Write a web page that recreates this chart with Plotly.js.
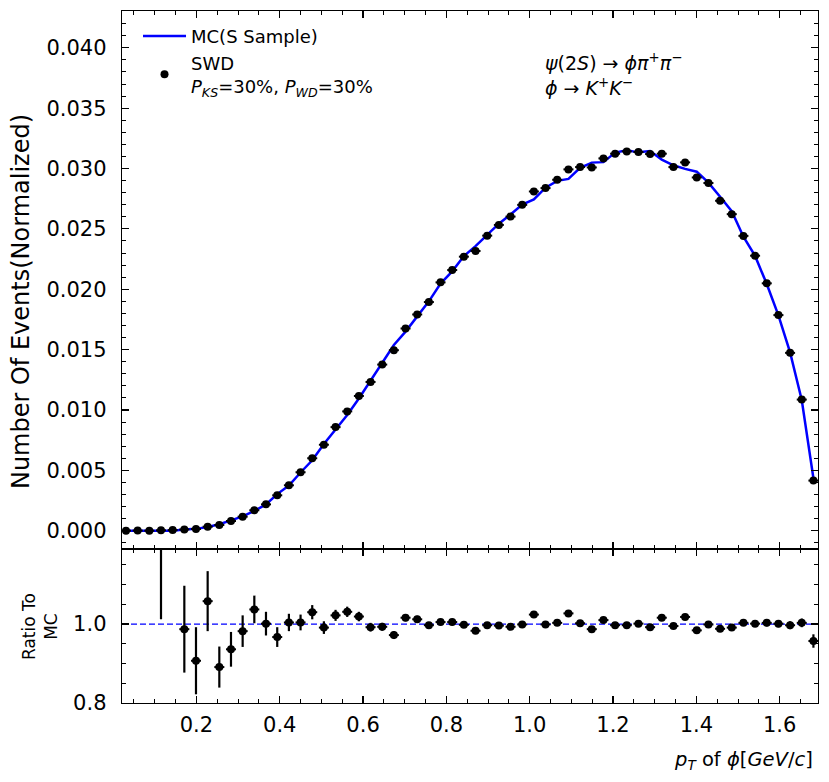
<!DOCTYPE html>
<html>
<head>
<meta charset="utf-8">
<script src="https://cdn.plot.ly/plotly-3.0.1.min.js"></script>
<style>html,body{margin:0;padding:0;background:#fff;}#chart{width:829px;height:782px;}</style>
</head>
<body>
<div id="chart"></div>
<script>
// bin centres of pT(phi) [GeV/c]
const ptCenters = [0.031,0.059,0.087,0.115,0.143,0.171,0.199,0.227,0.255,0.283,
  0.311,0.339,0.367,0.394,0.422,0.450,0.478,0.506,0.534,0.562,
  0.590,0.618,0.646,0.674,0.702,0.730,0.758,0.786,0.814,0.842,
  0.870,0.898,0.926,0.954,0.982,1.010,1.038,1.066,1.093,1.121,
  1.149,1.177,1.205,1.233,1.261,1.289,1.317,1.345,1.373,1.401,
  1.429,1.457,1.485,1.513,1.541,1.569,1.597,1.625,1.653,1.681];

// MC (S sample) normalized distribution
const mcValues = [0.00000,0.00000,0.00000,0.00002,0.00000,0.00010,0.00015,0.00031,0.00053,0.00085,
  0.00118,0.00163,0.00218,0.00303,0.00374,0.00482,0.00583,0.00718,0.00840,0.00958,
  0.01095,0.01242,0.01386,0.01538,0.01649,0.01770,0.01900,0.02047,0.02148,0.02275,
  0.02357,0.02451,0.02543,0.02620,0.02702,0.02744,0.02841,0.02898,0.02914,0.03006,
  0.03049,0.03053,0.03132,0.03151,0.03134,0.03145,0.03074,0.03027,0.02997,0.02974,
  0.02883,0.02766,0.02646,0.02435,0.02276,0.02043,0.01784,0.01477,0.01083,0.00434];

// SWD weighted distribution
const swdValues = [0.00000,0.00001,0.00000,0.00003,0.00005,0.00010,0.00014,0.00033,0.00047,0.00080,
  0.00116,0.00169,0.00218,0.00293,0.00376,0.00484,0.00600,0.00712,0.00858,0.00988,
  0.01116,0.01232,0.01376,0.01495,0.01675,0.01791,0.01894,0.02057,0.02159,0.02270,
  0.02317,0.02444,0.02533,0.02602,0.02699,0.02810,0.02838,0.02907,0.02993,0.03012,
  0.03009,0.03084,0.03123,0.03142,0.03137,0.03120,0.03123,0.03012,0.03051,0.02926,
  0.02880,0.02733,0.02622,0.02442,0.02278,0.02049,0.01786,0.01473,0.01086,0.00415];

const swdErrors = [0.00002,0.00002,0.00002,0.00003,0.00002,0.00002,0.00002,0.00003,0.00003,0.00004,
  0.00005,0.00006,0.00007,0.00008,0.00008,0.00010,0.00011,0.00012,0.00013,0.00013,
  0.00014,0.00014,0.00015,0.00015,0.00016,0.00016,0.00017,0.00017,0.00018,0.00018,
  0.00019,0.00019,0.00020,0.00020,0.00020,0.00021,0.00021,0.00021,0.00022,0.00022,
  0.00022,0.00022,0.00022,0.00022,0.00022,0.00022,0.00022,0.00022,0.00022,0.00021,
  0.00021,0.00021,0.00020,0.00020,0.00019,0.00018,0.00017,0.00015,0.00013,0.00007];

const binHalfWidth = 0.012;

// Ratio SWD / MC
const ratioValues = [null,null,null,1.35,null,0.987,0.907,1.058,0.891,0.936,
  0.982,1.037,1.001,0.967,1.004,1.004,1.030,0.991,1.022,1.031,
  1.019,0.992,0.993,0.972,1.016,1.012,0.997,1.005,1.005,0.998,
  0.983,0.997,0.996,0.993,0.999,1.024,0.999,1.003,1.027,1.002,
  0.987,1.010,0.997,0.997,1.001,0.992,1.016,0.995,1.018,0.984,
  0.999,0.988,0.991,1.003,1.001,1.003,1.001,0.997,1.003,0.957];

const ratioErrors = [null,null,null,0.338,null,0.110,0.085,0.076,0.052,0.044,
  0.040,0.035,0.030,0.025,0.022,0.020,0.018,0.016,0.014,0.013,
  0.012,0.011,0.010,0.010,0.009,0.009,0.008,0.008,0.008,0.008,
  0.008,0.007,0.007,0.007,0.007,0.007,0.007,0.007,0.007,0.007,
  0.007,0.007,0.007,0.007,0.007,0.007,0.007,0.007,0.007,0.007,
  0.007,0.008,0.008,0.008,0.008,0.009,0.009,0.010,0.011,0.017];

const yTickVals = [0.000,0.005,0.010,0.015,0.020,0.025,0.030,0.035,0.040];
const xTickVals = [0.2,0.4,0.6,0.8,1.0,1.2,1.4,1.6];
const ratioTickVals = [0.8,1.0];

const FONT = 'DejaVu Sans, Liberation Sans, sans-serif';
const BLUE = '#0000ff';

const traces = [
  {
    x: ptCenters, y: mcValues, xaxis: 'x', yaxis: 'y',
    type: 'scatter', mode: 'lines', name: 'MC(S Sample)',
    line: {color: BLUE, width: 2.5}
  },
  {
    x: ptCenters, y: swdValues, xaxis: 'x', yaxis: 'y',
    type: 'scatter', mode: 'markers',
    name: 'SWD<br><i>P</i><sub><i>KS</i></sub>=30%, <i>P</i><sub><i>WD</i></sub>=30%',
    marker: {color: '#000', size: 8},
    error_y: {type: 'data', array: swdErrors, visible: true, color: '#000', thickness: 2, width: 0},
    error_x: {type: 'constant', value: binHalfWidth, visible: true, color: '#000', thickness: 2, width: 0}
  },
  {
    x: ptCenters, y: ratioValues, xaxis: 'x2', yaxis: 'y2',
    type: 'scatter', mode: 'markers', showlegend: false,
    marker: {color: '#000', size: 8},
    error_y: {type: 'data', array: ratioErrors, visible: true, color: '#000', thickness: 2.2, width: 0},
    error_x: {type: 'constant', value: binHalfWidth, visible: true, color: '#000', thickness: 2, width: 0}
  }
];

const axisCommon = {
  showline: true, linecolor: '#000', linewidth: 1.3, mirror: 'ticks',
  ticks: 'inside', ticklen: 7, tickwidth: 1.2, tickcolor: '#000',
  showgrid: false, zeroline: false,
  tickfont: {family: FONT, size: 21, color: '#000'}
};

const xRange = [0.0214, 1.692];

const layout = {
  width: 829, height: 782,
  margin: {l: 122, r: 11, t: 11, b: 79},
  paper_bgcolor: '#fff', plot_bgcolor: '#fff',
  font: {family: FONT, color: '#000'},
  showlegend: true,
  legend: {
    x: 0.023, y: 0.99, xanchor: 'left', yanchor: 'top',
    bgcolor: 'rgba(0,0,0,0)', font: {family: FONT, size: 18, color: '#000'},
    itemwidth: 43, tracegroupgap: 4
  },
  xaxis: Object.assign({}, axisCommon, {
    domain: [0, 1], anchor: 'y', range: xRange, showticklabels: false,
    tickvals: xTickVals, matches: 'x2',
    minor: {dtick: 0.05, tick0: 0, ticks: 'inside', ticklen: 4, tickwidth: 1, tickcolor: '#000'}
  }),
  yaxis: Object.assign({}, axisCommon, {
    domain: [0.2225, 1], anchor: 'x', range: [-0.00152, 0.04305],
    tickvals: yTickVals, tickformat: '.3f', ticklabelstandoff: 10,
    minor: {dtick: 0.001, tick0: 0, ticks: 'inside', ticklen: 4, tickwidth: 1, tickcolor: '#000'}
  }),
  xaxis2: Object.assign({}, axisCommon, {
    domain: [0, 1], anchor: 'y2', range: xRange,
    tickvals: xTickVals, tickformat: '.1f', ticklabelstandoff: 2,
    minor: {dtick: 0.05, tick0: 0, ticks: 'inside', ticklen: 4, tickwidth: 1, tickcolor: '#000'}
  }),
  yaxis2: Object.assign({}, axisCommon, {
    domain: [0, 0.2225], anchor: 'x2', range: [0.8, 1.19],
    tickvals: ratioTickVals, tickformat: '.1f', ticklabelstandoff: 10,
    minor: {dtick: 0.05, tick0: 0, ticks: 'inside', ticklen: 4, tickwidth: 1, tickcolor: '#000'}
  }),
  shapes: [
    {type: 'line', xref: 'x2 domain', yref: 'y2', x0: 0, x1: 1, y0: 1, y1: 1,
     layer: 'below', line: {color: BLUE, width: 1.3, dash: '6px,3px'}}
  ],
  annotations: [
    {xref: 'paper', yref: 'paper', x: 0.605, y: 0.946, xanchor: 'left', yanchor: 'top',
     align: 'left', showarrow: false,
     font: {family: FONT, size: 19, color: '#000'},
     text: '<i>ψ</i>(2<i>S</i>) → <i>ϕπ</i><sup>+</sup><i>π</i><sup>−</sup><br><i>ϕ</i> → <i>K</i><sup>+</sup><i>K</i><sup>−</sup>'},
    {xref: 'paper', yref: 'paper', x: -0.145, y: 0.5795, xanchor: 'center', yanchor: 'middle',
     textangle: -90, showarrow: false,
     font: {family: FONT, size: 24, color: '#000'},
     text: 'Number Of Events(Normalized)'},
    {xref: 'paper', yref: 'paper', x: -0.118, y: 0.111, xanchor: 'center', yanchor: 'middle',
     textangle: -90, showarrow: false,
     font: {family: FONT, size: 17, color: '#000'},
     text: 'Ratio To<br>MC'},
    {xref: 'paper', yref: 'paper', x: 0.996, y: -0.083, xanchor: 'right', yanchor: 'middle',
     showarrow: false,
     font: {family: FONT, size: 19.5, color: '#000'},
     text: '<i>p</i><sub><i>T</i></sub> of <i>ϕ</i>[<i>GeV</i>/<i>c</i>]'}
  ]
};

Plotly.newPlot('chart', traces, layout, {displayModeBar: false, staticPlot: true});
</script>
</body>
</html>
